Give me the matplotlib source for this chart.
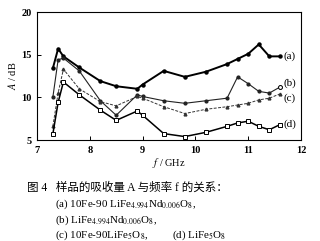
import matplotlib
matplotlib.use("Agg")
import matplotlib.pyplot as plt

plt.rcParams['mathtext.fontset'] = 'stix'

# frequency points (GHz)
freq = [7.3, 7.4, 7.5, 7.8, 8.2, 8.5, 8.9, 9.0, 9.4, 9.8, 10.2, 10.6, 10.8, 11.0, 11.2, 11.4, 11.6]

# absorption A (dB)
a_vals = [13.4, 15.7, 14.8, 13.5, 11.9, 11.3, 11.0, 11.5, 13.1, 12.4, 13.0, 13.9, 14.5, 15.1, 16.2, 14.8, 14.8]
b_vals = [10.0, 14.4, 14.6, 13.1, 9.6, 7.9, 10.3, 10.1, 9.6, 9.3, 9.6, 9.9, 12.4, 11.6, 10.7, 10.5, 11.2]
c_vals = [6.6, 10.5, 13.3, 11.0, 9.5, 9.0, 10.1, 9.9, 8.9, 8.1, 8.6, 8.9, 9.1, 9.3, 9.7, 9.9, 10.4]
d_vals = [5.7, 9.4, 11.8, 10.3, 8.5, 7.3, 8.4, 7.9, 5.75, 5.4, 5.9, 6.6, 7.0, 7.2, 6.6, 6.2, 6.8]

series_labels = ['(a)', '(b)', '(c)', '(d)']
xticks = [7, 8, 9, 10, 11, 12]
yticks = [5, 10, 15, 20]

W, H = 320, 241
fig = plt.figure(figsize=(W / 100, H / 100), dpi=100)
ax = fig.add_axes([37 / W, 1 - 140 / H, 264 / W, 128 / H])

ax.plot(freq, a_vals, '-o', color='black', lw=1.4, ms=2.2)
ax.plot(freq, b_vals, '-o', color='#222222', lw=0.8, ms=2.0)
ax.plot(freq, c_vals, '--^', color='#333333', lw=0.7, ms=2.0, dashes=(3, 1.5))
ax.plot(freq, d_vals, '-s', color='black', lw=1.1, ms=2.3, mfc='white', mew=0.7)

# the last point of (b) is an open circle
ax.plot(freq[-1:], b_vals[-1:], 'o', color='black', ms=2.8, mfc='white', mew=0.7)

# labels at the right ends
ends = [a_vals[-1], b_vals[-1] + 0.4, c_vals[-1] - 0.5, d_vals[-1]]
for lab, yv in zip(series_labels, ends):
    ax.text(11.67, yv, lab, fontsize=8, family='Liberation Serif', va='center', ha='left')

ax.set_xlim(7, 12)
ax.set_ylim(5, 20)
ax.set_xticks(xticks)
ax.set_yticks(yticks)
ax.tick_params(direction='in', length=3, width=0.7, labelsize=7.5, pad=4)
for lab in ax.get_xticklabels() + ax.get_yticklabels():
    lab.set_family('Liberation Serif')
    lab.set_fontweight('bold')
for sp in ax.spines.values():
    sp.set_linewidth(0.8)

ax.set_ylabel('$\\mathit{A}$ / dB', fontsize=7.5, family='Liberation Serif', labelpad=2)
ax.set_xlabel('$\\mathit{f}$ / GHz', fontsize=7.5, family='Liberation Serif', labelpad=1)

# caption below the chart
cap_font = ['Liberation Serif', 'Noto Sans CJK SC']
fig.text(27 / W, 1 - 188 / H, '图 4   样品的吸收量 A 与频率 f 的关系：', fontsize=8.3,
         family=cap_font, va='center')
fig.text(55 / W, 1 - 204 / H, '(a) 10Fe-90 LiFe$_{4.994}$Nd$_{0.006}$O$_{8}$,',
         fontsize=7.9, family='Liberation Serif', va='center')
fig.text(55 / W, 1 - 220 / H, '(b) LiFe$_{4.994}$Nd$_{0.006}$O$_{8}$,',
         fontsize=7.9, family='Liberation Serif', va='center')
fig.text(55 / W, 1 - 235 / H, '(c) 10Fe-90LiFe$_{5}$O$_{8}$,',
         fontsize=7.9, family='Liberation Serif', va='center')
fig.text(172 / W, 1 - 235 / H, '(d) LiFe$_{5}$O$_{8}$',
         fontsize=7.9, family='Liberation Serif', va='center')

fig.savefig('out.png', dpi=100)
